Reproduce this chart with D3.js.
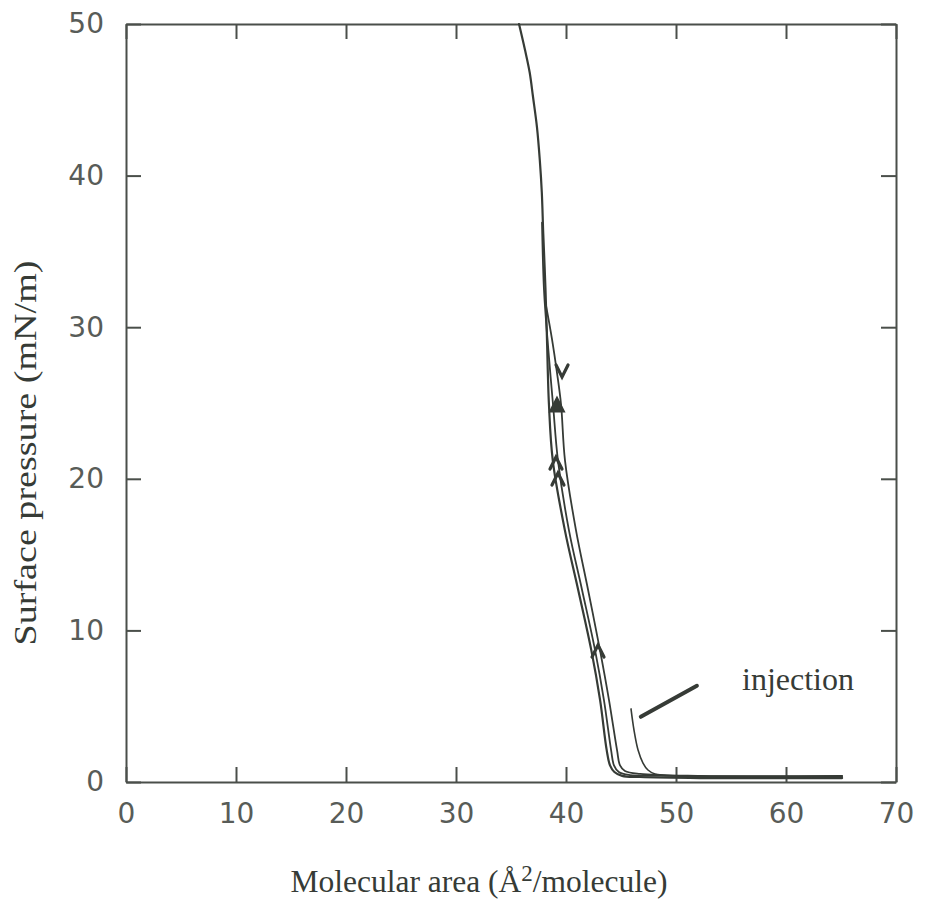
<!DOCTYPE html>
<html>
<head>
<meta charset="utf-8">
<script src="https://cdn.jsdelivr.net/npm/d3@7"></script>
<style>
  html, body { margin: 0; padding: 0; background: #ffffff; }
  svg { display: block; }
</style>
</head>
<body>
<svg id="chart" width="925" height="901"></svg>
<script>
// Surface pressure – molecular area isotherms (compression / expansion cycles)

const xTicks = [0, 10, 20, 30, 40, 50, 60, 70];
const yTicks = [0, 10, 20, 30, 40, 50];

// first compression, up to 50 mN/m  [area Å²/molecule, pressure mN/m]
const compression1 = [
  [65.1, 0.26], [52.2, 0.26], [46.7, 0.33], [45.1, 0.40], [44.4, 0.66], [44.0, 1.1],
  [43.7, 2.1], [43.1, 5.4], [42.3, 8.7], [41.1, 12.7], [39.9, 16.6], [38.8, 21.2],
  [38.45, 24.9], [38.27, 29.2], [38.13, 32.6], [37.93, 36.2], [37.8, 38.9], [37.62, 41.0],
  [37.36, 43.2], [37.0, 45.2], [36.7, 46.8], [36.27, 48.3], [35.73, 50.0]
];

// second compression, stopped near 37 mN/m
const compression2 = [
  [65.1, 0.33], [48.55, 0.40], [45.8, 0.46], [44.8, 0.66], [44.36, 1.1], [44.1, 2.1],
  [43.45, 5.4], [42.64, 8.7], [41.45, 12.7], [40.27, 16.6], [39.27, 21.2], [38.82, 24.9],
  [38.36, 28.8], [38.0, 32.45], [37.82, 36.9]
];

// expansion branch, from about 32 mN/m back down
const expansion = [
  [38.09, 31.8], [38.73, 29.2], [39.18, 27.0], [39.55, 24.9], [39.91, 21.2], [40.91, 16.6],
  [42.0, 12.7], [43.09, 8.7], [43.91, 5.4], [44.64, 2.1], [44.91, 1.1], [45.36, 0.73],
  [46.73, 0.53], [52.18, 0.40], [65.1, 0.40]
];

// isotherm recorded after injection
const injection = [
  [45.91, 4.82], [46.18, 3.43], [46.55, 2.11], [47.0, 1.25], [47.45, 0.79],
  [48.09, 0.53], [50.36, 0.40], [65.1, 0.40]
];

// direction markers along the branches: [area, pressure, direction, filled]
const arrows = [
  [39.64, 27.05, "down", false],
  [39.18, 24.87, "up", true],
  [39.09, 21.11, "up", false],
  [39.27, 20.05, "up", false],
  [42.91, 8.71, "up", false]
];

// annotation: label and its pointer line [area, pressure]
const injectionLabel = { text: "injection", at: [56.0, 6.1] };
const injectionPointer = [[46.8, 4.3], [51.9, 6.35]];

const margin = { top: 24, right: 29, bottom: 119, left: 126 };
const W = 925, H = 901;
const w = W - margin.left - margin.right;
const h = H - margin.top - margin.bottom;

const ink = "#363b36";
const axisInk = "#4a4f4a";
const labelInk = "#585c58";

const svg = d3.select("#chart");
svg.append("rect").attr("width", W).attr("height", H).attr("fill", "#ffffff");

const g = svg.append("g").attr("transform", `translate(${margin.left},${margin.top})`);

const x = d3.scaleLinear().domain([0, 70]).range([0, w]);
const y = d3.scaleLinear().domain([0, 50]).range([h, 0]);

// frame with inward ticks on all four sides
const tickFont = "'DejaVu Sans', 'Liberation Sans', sans-serif";

const axisBottomG = g.append("g").attr("transform", `translate(0,${h})`)
  .call(d3.axisBottom(x).tickValues(xTicks).tickSize(-15).tickSizeOuter(0).tickPadding(21));
const axisTopG = g.append("g")
  .call(d3.axisTop(x).tickValues(xTicks).tickSize(-15).tickSizeOuter(0).tickFormat(""));
const axisLeftG = g.append("g")
  .call(d3.axisLeft(y).tickValues(yTicks).tickSize(-15).tickSizeOuter(0).tickPadding(22));
const axisRightG = g.append("g").attr("transform", `translate(${w},0)`)
  .call(d3.axisRight(y).tickValues(yTicks).tickSize(-15).tickSizeOuter(0).tickFormat(""));

[axisBottomG, axisTopG, axisLeftG, axisRightG].forEach(ax => {
  ax.select(".domain").attr("stroke", axisInk).attr("stroke-width", 2);
  ax.selectAll(".tick line").attr("stroke", axisInk).attr("stroke-width", 2);
  ax.selectAll(".tick text")
    .attr("fill", labelInk)
    .style("font-family", tickFont)
    .style("font-size", "28px");
});

// isotherm curves
const line = d3.line()
  .x(d => x(d[0]))
  .y(d => y(d[1]))
  .curve(d3.curveCatmullRom.alpha(0.5));

const curves = [
  { data: compression1, width: 2.2 },
  { data: compression2, width: 1.8 },
  { data: expansion, width: 1.8 },
  { data: injection, width: 1.6 }
];

g.append("g").selectAll("path")
  .data(curves)
  .join("path")
  .attr("d", d => line(d.data))
  .attr("fill", "none")
  .attr("stroke", ink)
  .attr("stroke-width", d => d.width)
  .attr("stroke-linejoin", "round")
  .attr("stroke-linecap", "round");

// direction markers
g.append("g").selectAll("path")
  .data(arrows)
  .join("path")
  .attr("transform", d => `translate(${x(d[0])},${y(d[1])})${d[2] === "down" ? " rotate(180)" : ""}`)
  .attr("d", d => d[3] ? "M-6,6 L0,-6 L6,6 Z" : "M-6,7 L0,-5 L6,7")
  .attr("fill", d => d[3] ? ink : "none")
  .attr("stroke", ink)
  .attr("stroke-width", 3.2)
  .attr("stroke-linejoin", "miter")
  .attr("stroke-linecap", "round");

// injection annotation
g.append("line")
  .attr("x1", x(injectionPointer[0][0])).attr("y1", y(injectionPointer[0][1]))
  .attr("x2", x(injectionPointer[1][0])).attr("y2", y(injectionPointer[1][1]))
  .attr("stroke", ink)
  .attr("stroke-width", 4)
  .attr("stroke-linecap", "round");

g.append("text")
  .attr("x", x(injectionLabel.at[0]))
  .attr("y", y(injectionLabel.at[1]))
  .attr("fill", ink)
  .style("font-family", "'Liberation Serif', 'DejaVu Serif', serif")
  .style("font-size", "32px")
  .text(injectionLabel.text);

// axis titles
const serif = "'Liberation Serif', 'Times New Roman', serif";

const xTitle = svg.append("text")
  .attr("x", 479)
  .attr("y", 892)
  .attr("text-anchor", "middle")
  .attr("fill", ink)
  .style("font-family", serif)
  .style("font-size", "31.5px");
xTitle.append("tspan").text("Molecular area (Å");
xTitle.append("tspan").attr("dy", -11).style("font-size", "23px").text("2");
xTitle.append("tspan").attr("dy", 11).text("/molecule)");

svg.append("text")
  .attr("transform", "translate(36,453) rotate(-90)")
  .attr("text-anchor", "middle")
  .attr("fill", ink)
  .attr("textLength", 385)
  .attr("lengthAdjust", "spacingAndGlyphs")
  .style("font-family", serif)
  .style("font-size", "31px")
  .text("Surface pressure (mN/m)");
</script>
</body>
</html>
